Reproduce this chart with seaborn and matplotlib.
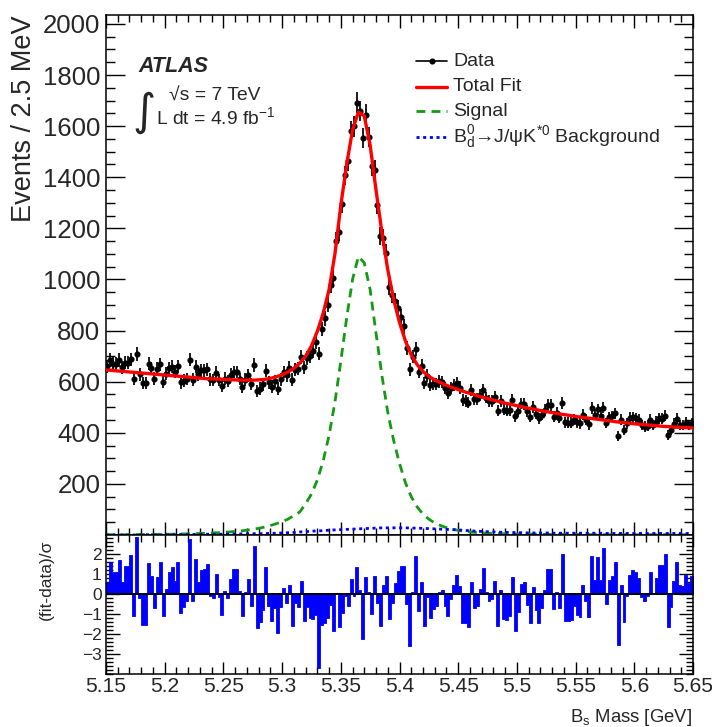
import numpy as np
import pandas as pd
import matplotlib
matplotlib.use("Agg")
import matplotlib.pyplot as plt
import seaborn as sns
from matplotlib.ticker import MultipleLocator, FixedLocator, FuncFormatter

# ------------------------------------------------------------------ data
mass_lo, mass_hi, bin_width = 5.15, 5.65, 0.0025
curve_step = 0.005

events = [
    661, 685, 671, 670, 685, 656, 675, 674, 687, 610,
    708, 629, 595, 594, 671, 653, 612, 650, 668, 600,
    632, 652, 658, 639, 661, 597, 604, 610, 686, 608,
    659, 629, 644, 644, 649, 609, 606, 635, 607, 584,
    612, 603, 627, 638, 638, 610, 580, 608, 625, 592,
    665, 565, 573, 589, 643, 597, 581, 601, 573, 609,
    638, 625, 654, 608, 646, 651, 697, 657, 692, 699,
    720, 754, 710, 806, 848, 901, 979, 1005, 1150, 1185,
    1296, 1407, 1462, 1581, 1599, 1692, 1659, 1552, 1645, 1558,
    1444, 1428, 1293, 1171, 1164, 1105, 970, 938, 917, 888,
    854, 817, 733, 649, 698, 727, 639, 663, 595, 623,
    588, 592, 590, 601, 599, 574, 557, 574, 586, 594,
    577, 529, 525, 518, 566, 533, 532, 549, 569, 538,
    525, 524, 541, 487, 525, 490, 486, 488, 529, 465,
    485, 514, 513, 485, 463, 501, 474, 456, 471, 489,
    510, 508, 462, 478, 459, 516, 441, 439, 439, 452,
    441, 437, 470, 451, 433, 497, 470, 492, 467, 498,
    438, 461, 464, 477, 388, 451, 410, 437, 458, 461,
    457, 451, 430, 424, 428, 452, 430, 444, 456, 455,
    467, 391, 410, 436, 455, 431, 430, 440, 431, 438,
]

pulls = [
    0.6, 1.6, 1.1, 1.1, 1.7, 0.6, 1.4, 1.4, 1.95, -1.07,
    2.87, -0.2, -1.52, -1.52, 1.57, 0.9, -0.68, 0.85, 1.6, -1.07,
    0.27, 1.1, 1.37, 0.65, 1.6, -0.93, -0.63, -0.35, 2.77, -0.35,
    1.77, 0.6, 1.23, 1.27, 1.53, -0.07, -0.2, 1.0, -0.13, -1.03,
    0.15, -0.2, 0.77, 1.27, 1.27, 0.15, -1.07, 0.1, 0.78, -0.57,
    2.4, -1.7, -1.4, -0.8, 1.35, -0.6, -1.35, -0.68, -1.93, -0.63,
    0.32, -0.43, 0.48, -1.6, -0.43, -0.63, 0.68, -1.35, -0.63, -1.18,
    -1.23, -1.02, -3.68, -1.52, -1.43, -1.18, -0.52, -1.85, 0.07, -1.63,
    -0.93, -0.07, -0.57, 0.77, -0.1, 1.35, 0.2, -2.27, 0.85, 0.1,
    -0.97, 0.9, -0.43, -1.57, 0.48, 0.93, -1.23, -0.43, 0.57, 1.15,
    1.4, 1.4, -0.47, -2.6, 0.1, 1.93, -0.82, 0.62, -1.6, -0.13,
    -1.18, -0.73, -0.57, 0.1, 0.23, -0.6, -1.1, -0.22, 0.45, 0.95,
    0.4, -1.43, -1.43, -1.63, 0.6, -0.68, -0.57, 0.28, 1.32, 0.1,
    -0.32, -0.22, 0.65, -1.6, 0.2, -1.23, -1.3, -1.07, 0.85, -1.85,
    -0.9, 0.52, 0.6, -0.52, -1.43, 0.35, -0.77, -1.43, -0.68, 0.23,
    1.27, 1.27, -0.73, 0.1, -0.68, 2.02, -1.35, -1.35, -1.3, -0.6,
    -1.02, -1.13, 0.45, -0.35, -1.13, 1.93, 0.73, 1.85, 0.73, 2.3,
    -0.47, 0.7, 0.9, 1.6, -2.55, 0.47, -1.4, -0.07, 0.98, 1.2,
    1.1, 0.82, -0.13, -0.35, -0.1, 1.1, 0.07, 0.8, 1.45, 1.45,
    2.03, -1.63, -0.65, 0.68, 1.6, 0.48, 0.43, 0.98, 0.57, 0.93,
]

fit_total = [
    646, 644, 642, 640, 638, 636, 634, 632, 630, 628,
    626, 624, 622, 620, 618, 616, 614, 612, 611, 610,
    609, 608, 607, 606, 606, 606, 607, 609, 613, 619,
    627, 638, 652, 672, 700, 740, 797, 868, 960, 1100,
    1290, 1450, 1585, 1655, 1640, 1525, 1350, 1185, 1038, 922,
    832, 760, 705, 667, 640, 621, 607, 596, 586, 577,
    569, 561, 554, 547, 540, 534, 528, 522, 516, 511,
    506, 501, 496, 492, 487, 483, 479, 475, 471, 468,
    464, 461, 458, 455, 452, 449, 446, 443, 440, 438,
    435, 433, 431, 429, 427, 425, 424, 422, 421, 420,
    419,
]

fit_signal = [
    1, 1, 1, 1, 1, 2, 2, 2, 2, 3,
    3, 3, 4, 4, 5, 5, 6, 7, 8, 9,
    10, 12, 14, 16, 19, 22, 26, 31, 37, 44,
    52, 62, 76, 90, 122, 160, 215, 290, 390, 520,
    680, 850, 1000, 1090, 1065, 960, 790, 625, 480, 370,
    280, 205, 150, 110, 82, 62, 47, 37, 29, 23,
    18, 15, 12, 10, 8, 7, 6, 5, 5, 4,
    4, 3, 3, 3, 3, 2, 2, 2, 2, 2,
    2, 2, 2, 1, 1, 1, 1, 1, 1, 1,
    1, 1, 1, 1, 1, 1, 1, 1, 1, 1,
    1,
]

fit_bd = [
    0, 0, 0, 0, 0, 0, 1, 1, 1, 1,
    1, 1, 2, 2, 2, 2, 3, 3, 3, 3,
    3, 4, 4, 4, 5, 5, 5, 6, 6, 7,
    8, 9, 10, 12, 13, 15, 16, 17, 19, 20,
    21, 22, 23, 24, 25, 26, 27, 28, 28, 28,
    28, 28, 27, 27, 26, 25, 24, 23, 22, 21,
    20, 18, 17, 15, 14, 13, 12, 11, 10, 10,
    9, 9, 8, 8, 8, 8, 7, 7, 7, 7,
    7, 7, 7, 7, 7, 6, 6, 6, 6, 6,
    6, 6, 6, 6, 6, 6, 6, 6, 6, 6,
    6,
]

x_ticks = [5.15, 5.2, 5.25, 5.3, 5.35, 5.4, 5.45, 5.5, 5.55, 5.6, 5.65]
y_ticks_top = [0, 200, 400, 600, 800, 1000, 1200, 1400, 1600, 1800, 2000]
y_ticks_pull = [-3, -2, -1, 0, 1, 2]

legend_labels = ["Data", "Total Fit", "Signal",
                 r"B$_{\mathrm{d}}^{0}$→J/ψK$^{*0}$ Background"]

# ------------------------------------------------------------------ frames
n_bins = len(events)
edges = mass_lo + bin_width * np.arange(n_bins + 1)
centers = 0.5 * (edges[:-1] + edges[1:])
curve_x = mass_lo + curve_step * np.arange(len(fit_total))

hist = pd.DataFrame({"mass": centers, "events": events, "pull": pulls})
curves = pd.DataFrame({"mass": curve_x, "total": fit_total,
                       "signal": fit_signal, "bd": fit_bd})

# ------------------------------------------------------------------ style
sns.set_theme(style="ticks")
plt.rcParams["font.family"] = ["Liberation Sans", "DejaVu Sans"]
plt.rcParams["mathtext.fontset"] = "custom"
plt.rcParams["mathtext.rm"] = "Liberation Sans"
plt.rcParams["mathtext.it"] = "Liberation Sans:italic"
plt.rcParams["mathtext.bf"] = "Liberation Sans:bold"
plt.rcParams["axes.linewidth"] = 1.1

W, H = 712, 727
fig = plt.figure(figsize=(W / 100, H / 100), dpi=100)
L, R = 106, 693
T1, B1, B2 = 15, 535, 674
ax1 = fig.add_axes([L / W, 1 - B1 / H, (R - L) / W, (B1 - T1) / H])
ax2 = fig.add_axes([L / W, 1 - B2 / H, (R - L) / W, (B2 - B1) / H])

red, green, blue = "#ff0000", "#139a13", "#0000ff"

# ---- top panel curves
sns.lineplot(data=curves, x="mass", y="signal", ax=ax1, color=green,
             lw=2.0, estimator=None, sort=False)
ax1.lines[-1].set_dashes([3.2, 2.2])
sns.lineplot(data=curves, x="mass", y="bd", ax=ax1, color=blue,
             lw=2.0, estimator=None, sort=False)
ax1.lines[-1].set_dashes([1.1, 1.3])
ax1.errorbar(hist["mass"], hist["events"], yerr=np.sqrt(hist["events"]),
             fmt="o", color="black", ms=3.4, elinewidth=1.25, capsize=0,
             zorder=3)
sns.lineplot(data=curves, x="mass", y="total", ax=ax1, color=red,
             lw=2.4, estimator=None, sort=False, zorder=4)

ax1.set_xlim(mass_lo, mass_hi)
ax1.set_ylim(0, 2035)
ax1.set_xlabel("")
ax1.set_ylabel("")
ax1.xaxis.set_major_locator(FixedLocator(x_ticks))
ax1.xaxis.set_minor_locator(MultipleLocator(0.01))
ax1.yaxis.set_major_locator(FixedLocator(y_ticks_top))
ax1.yaxis.set_minor_locator(MultipleLocator(50))
ax1.yaxis.set_major_formatter(FuncFormatter(lambda v, p: "" if v == 0 else f"{v:g}"))
ax1.tick_params(axis="both", which="both", direction="in", top=True,
                right=True, labelbottom=False, width=1.0, color="black")
ax1.tick_params(axis="y", which="major", length=13.7, labelsize=18.5, pad=4.0)
ax1.tick_params(axis="y", which="minor", length=6.5)
ax1.tick_params(axis="x", which="major", length=9.4)
ax1.tick_params(axis="x", which="minor", length=5.0)

# ---- pulls panel (filled histogram, one bin per pull value)
sns.histplot(data=hist, x="mass", weights="pull", binwidth=bin_width,
             binrange=(mass_lo, mass_hi), element="step", fill=True,
             ax=ax2, color=blue, alpha=1.0, linewidth=0.6, edgecolor=blue)
ax2.axhline(0, color="black", lw=1.4, zorder=5)
ax2.set_xlim(mass_lo, mass_hi)
ax2.set_ylim(-4.0, 2.97)
ax2.set_xlabel("")
ax2.set_ylabel("")
ax2.xaxis.set_major_locator(FixedLocator(x_ticks))
ax2.xaxis.set_minor_locator(MultipleLocator(0.01))
ax2.xaxis.set_major_formatter(FuncFormatter(lambda v, p: f"{v:g}"))
ax2.yaxis.set_major_locator(FixedLocator(y_ticks_pull))
ax2.yaxis.set_minor_locator(MultipleLocator(0.2))
ax2.tick_params(axis="both", which="both", direction="in", top=True,
                right=True, width=1.0, color="black")
ax2.tick_params(axis="y", which="major", length=10, labelsize=12.5, pad=3.0)
ax2.tick_params(axis="y", which="minor", length=5)
ax2.tick_params(axis="x", which="major", length=8.6, labelsize=15.2, pad=2.5)
ax2.tick_params(axis="x", which="minor", length=5)

for ax in (ax1, ax2):
    for s in ax.spines.values():
        s.set_linewidth(1.1)
        s.set_color("black")

# ---- axis titles
fig.text(24 / W, 1 - 15 / H, "Events / 2.5 MeV", rotation=90,
         ha="center", va="top", fontsize=19.5)
fig.text(46 / W, 1 - 540 / H, "(fit-data)/σ", rotation=90,
         ha="center", va="top", fontsize=12.5)
fig.text(692 / W, 1 - 722 / H, r"B$_{\mathrm{s}}$ Mass [GeV]",
         ha="right", va="baseline", fontsize=13.3)


# ---- ATLAS label (axes-fraction helpers)
def fx(px):
    return (px - L) / (R - L)


def fy(py):
    return (B1 - py) / (B1 - T1)


tr = ax1.transAxes
ax1.text(fx(138), fy(72.3), "ATLAS", fontsize=15.5, fontweight="bold",
         fontstyle="italic", ha="left", va="baseline", transform=tr)
ax1.text(fx(169), fy(100.5), "√s = 7 TeV", fontsize=13.9,
         ha="left", va="baseline", transform=tr)
ax1.text(fx(156.5), fy(124), r"L dt = 4.9 fb$^{\mathrm{-1}}$", fontsize=13.9,
         ha="left", va="baseline", transform=tr)
ax1.text(fx(144), fy(112), "∫", fontsize=32, ha="center", va="center",
         family=["DejaVu Sans"], transform=tr)

# ---- legend (drawn as text + sample lines)
rows = [61, 86.5, 111, 136.5]
styles = [dict(color="black", lw=1.2, marker="o", ms=3.4, markevery=[1]),
          dict(color=red, lw=2.4),
          dict(color=green, lw=2.0, dashes=[3.2, 2.2]),
          dict(color=blue, lw=2.0, dashes=[1.1, 1.3])]
for py, lab, st in zip(rows, legend_labels, styles):
    ax1.plot([fx(416), fx(431.5), fx(447)], [fy(py)] * 3,
             transform=tr, clip_on=False, **st)
    ax1.text(fx(453), fy(py), lab, fontsize=14, ha="left", va="center",
             transform=tr)

fig.savefig("out.png", dpi=100)
